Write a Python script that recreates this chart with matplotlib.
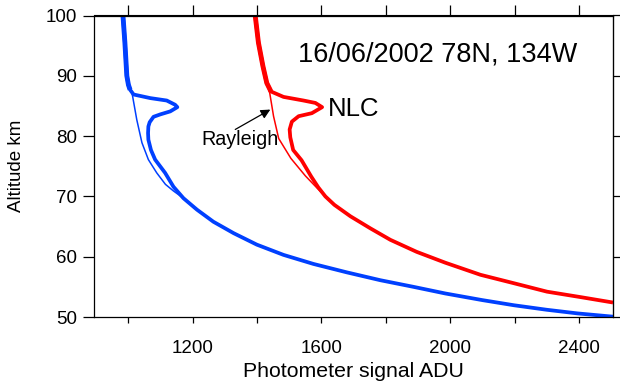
import matplotlib
matplotlib.use("Agg")
import matplotlib.pyplot as plt

plt.rcParams['font.family'] = ['Liberation Sans', 'DejaVu Sans']

blue_sig = [983, 989, 995, 1000, 1005, 1016, 1068, 1119, 1145, 1152, 1130, 1099, 1078, 1066,
            1062, 1061, 1062, 1070, 1083, 1114, 1140, 1171, 1213, 1264, 1327, 1399, 1482,
            1575, 1679, 1783, 1886, 1985, 2100, 2198, 2300, 2395, 2507]
blue_alt = [100, 95.5, 90, 88.5, 87.7, 86.9, 86.3, 85.9, 85.2, 84.8, 84.1, 83.6, 83.2, 82.3,
            81.6, 80.5, 79.4, 77.7, 76.1, 73.9, 71.6, 69.7, 67.8, 65.8, 63.9, 62.0, 60.3,
            58.8, 57.4, 56.1, 55.0, 53.9, 52.8, 51.95, 51.2, 50.6, 50.05]

# Rayleigh fit, blue channel
blue_ray_sig = [983, 995, 1005, 1011, 1026, 1042, 1062, 1088, 1115, 1140, 1171, 1213]
blue_ray_alt = [100, 90, 88.0, 87.2, 82.7, 78.9, 76.1, 73.9, 72.0, 70.9, 69.7, 67.8]

# Measured photometer profile, red channel
red_sig = [1394, 1404, 1418, 1430, 1443, 1482, 1544, 1581, 1602, 1570, 1529, 1508, 1501,
           1503, 1512, 1538, 1568, 1590, 1612, 1640, 1690, 1752, 1814, 1896, 1985, 2094,
           2198, 2301, 2405, 2506]
red_alt = [100, 95.5, 91.6, 88.8, 87.4, 86.5, 85.9, 85.5, 84.8, 83.8, 83.3, 82.4, 81.1,
           79.8, 77.7, 76.0, 73.3, 71.5, 70.0, 68.6, 66.7, 64.7, 62.8, 60.8, 59.0, 57.0,
           55.6, 54.2, 53.3, 52.4]

# Rayleigh fit, red channel
red_ray_sig = [1394, 1418, 1432, 1439, 1451, 1467, 1505, 1550, 1586, 1612, 1640]
red_ray_alt = [100, 91.6, 88.5, 87.2, 83.3, 79.6, 76.3, 73.4, 71.4, 70.0, 68.6]

x_major = [1200, 1600, 2000, 2400]
x_minor = [1000, 1400, 1800, 2200]
x_top = [1000, 1200, 1400, 1600, 1800, 2000, 2200, 2400]
y_ticks = [50, 60, 70, 80, 90, 100]

title_text = "16/06/2002 78N, 134W"
nlc_text = "NLC"
ray_text = "Rayleigh"

BLUE = '#0040ff'
RED = '#ff0000'

fig = plt.figure(figsize=(6.2, 3.82), dpi=100)
ax = fig.add_axes([94/620, 1 - 317/382, (613 - 94)/620, (317 - 15.5)/382])

ax.plot(blue_sig, blue_alt, color=BLUE, lw=2.7, solid_joinstyle='round', solid_capstyle='butt')
ax.plot(blue_sig[:5], blue_alt[:5], color=BLUE, lw=3.5, solid_joinstyle='round', solid_capstyle='butt')
ax.plot(blue_ray_sig, blue_ray_alt, color=BLUE, lw=1.1)
ax.plot(red_sig, red_alt, color=RED, lw=2.7, solid_joinstyle='round', solid_capstyle='butt')
ax.plot(red_sig[:5], red_alt[:5], color=RED, lw=3.5, solid_joinstyle='round', solid_capstyle='butt')
ax.plot(red_ray_sig, red_ray_alt, color=RED, lw=1.1)

ax.set_xlim(893, 2506)
ax.set_ylim(50, 100)

for s in ax.spines.values():
    s.set_linewidth(0.9)
    s.set_color('black')

ax.set_xticks(x_major)
ax.set_xticks(x_minor, minor=True)
ax.tick_params(axis='x', which='both', direction='out', length=4.5, width=0.9,
               labelsize=13.5, pad=12)
ax.set_yticks(y_ticks)
ax.tick_params(axis='y', which='both', direction='out', length=8, width=0.9,
               labelsize=13.5, pad=4.3)

top = ax.secondary_xaxis('top')
top.set_xticks(x_top)
top.tick_params(direction='out', length=7, width=0.9, labeltop=False)
right = ax.secondary_yaxis('right')
right.set_yticks(y_ticks)
right.tick_params(direction='out', length=6, width=0.9, labelright=False)

ax.set_xlabel("Photometer signal ADU", fontsize=15.3, va='baseline')
ax.xaxis.set_label_coords(0.5, (317 - 377) / 301.5)
ax.set_ylabel("Altitude km", fontsize=13.5, va='center')
ax.yaxis.set_label_coords((16.5 - 94) / 519, 0.5)

ax.text(1528, 92.4, title_text, fontsize=19.5, ha='left', va='baseline')
ax.text(1619, 83.3, nlc_text, fontsize=18.5, ha='left', va='baseline')
ax.text(1348, 78.6, ray_text, fontsize=14.2, ha='center', va='baseline')
ax.annotate('', xy=(1441, 84.4), xytext=(1332, 81.1),
            arrowprops=dict(arrowstyle='-|>', color='black', lw=0.9,
                            mutation_scale=14, shrinkA=0, shrinkB=0))

fig.savefig('out.png', dpi=100)
